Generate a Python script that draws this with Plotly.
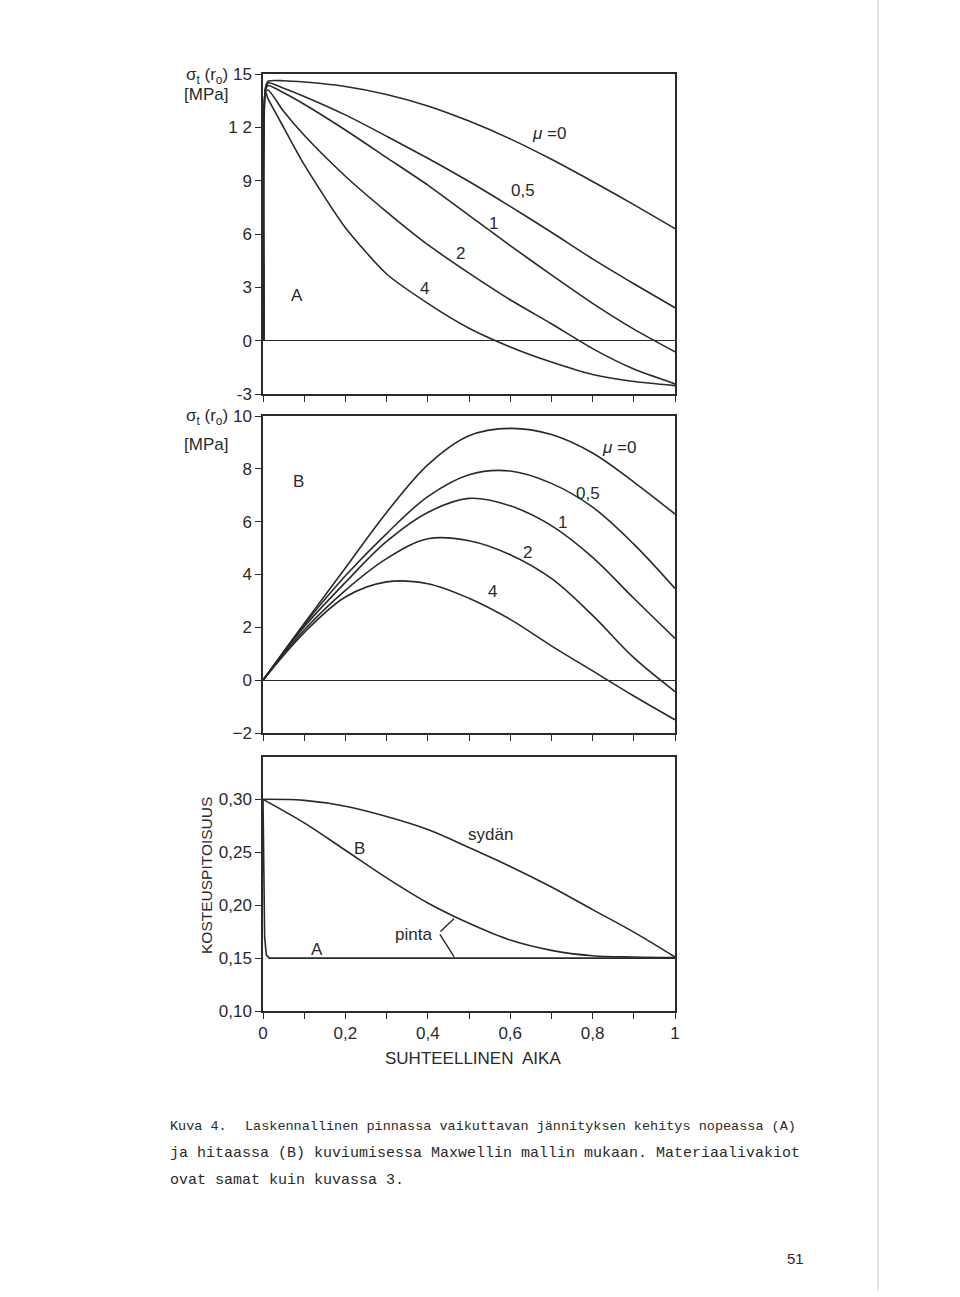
import plotly.graph_objects as go

W, H = 960, 1297

# --- panel A: sigma_t(r0), fast drying ---
xa = [0.0025, 0.006, 0.0125, 0.05, 0.1, 0.2, 0.3, 0.4, 0.5, 0.6, 0.7, 0.8, 0.9, 1.0]
a_mu0 = [0, 14.2, 14.6, 14.62, 14.55, 14.3, 13.85, 13.2, 12.35, 11.35, 10.2, 8.95, 7.65, 6.3]
a_mu05 = [0, 14.2, 14.5, 14.2, 13.74, 12.7, 11.5, 10.26, 8.95, 7.55, 6.1, 4.6, 3.2, 1.85]
a_mu1 = [0, 14.1, 14.35, 13.95, 13.3, 11.85, 10.3, 8.75, 7.05, 5.35, 3.7, 2.1, 0.65, -0.63]
a_mu2 = [0, 14.0, 14.1, 12.9, 11.55, 9.25, 7.25, 5.4, 3.8, 2.3, 0.95, -0.45, -1.6, -2.43]
a_mu4 = [0, 14.0, 13.6, 12.0, 9.9, 6.35, 3.75, 2.1, 0.7, -0.35, -1.2, -1.9, -2.3, -2.53]

# --- panel B: sigma_t(r0), slow drying ---
xb = [0, 0.1, 0.2, 0.3, 0.4, 0.5, 0.6, 0.7, 0.8, 0.9, 1.0]
b_mu0 = [0, 2.15, 4.25, 6.35, 8.15, 9.25, 9.53, 9.3, 8.6, 7.5, 6.29]
b_mu05 = [0, 2.1, 3.95, 5.55, 6.95, 7.78, 7.92, 7.45, 6.55, 5.15, 3.47]
b_mu1 = [0, 2.02, 3.7, 5.25, 6.35, 6.88, 6.6, 5.85, 4.65, 3.1, 1.58]
b_mu2 = [0, 1.9, 3.4, 4.6, 5.35, 5.28, 4.75, 3.85, 2.45, 0.85, -0.43]
b_mu4 = [0, 1.8, 3.15, 3.72, 3.65, 3.1, 2.3, 1.3, 0.35, -0.6, -1.5]

# --- panel C: moisture content ---
xc = [0, 0.1, 0.2, 0.3, 0.4, 0.5, 0.6, 0.7, 0.8, 0.9, 1.0]
sydan = [0.30, 0.299, 0.2935, 0.2838, 0.2715, 0.2545, 0.2366, 0.2172, 0.1958, 0.1745, 0.151]
pinta_b = [0.30, 0.2778, 0.2519, 0.2258, 0.2021, 0.1829, 0.167, 0.1573, 0.1522, 0.151, 0.1505]
xc_a = [0, 0.004, 0.008, 0.015, 1.0]
pinta_a = [0.30, 0.17, 0.153, 0.15, 0.15]

mu_labels = ["<i>\u03bc</i> =0", "0,5", "1", "2", "4"]

INK = "#2a2a2a"
LAB_FONT = dict(family="Liberation Sans, Arial, sans-serif", size=17, color=INK)


def px(x):
    return x / W


def py(y):
    return 1 - y / H


fig = go.Figure()

for ys in [a_mu0, a_mu05, a_mu1, a_mu2, a_mu4]:
    fig.add_trace(go.Scatter(x=xa, y=ys, mode="lines", xaxis="x", yaxis="y",
                             line=dict(color=INK, width=1.6, shape="spline", smoothing=0.6)))
for ys in [b_mu0, b_mu05, b_mu1, b_mu2, b_mu4]:
    fig.add_trace(go.Scatter(x=xb, y=ys, mode="lines", xaxis="x2", yaxis="y2",
                             line=dict(color=INK, width=1.6, shape="spline", smoothing=1.0)))
for ys in [sydan, pinta_b]:
    fig.add_trace(go.Scatter(x=xc, y=ys, mode="lines", xaxis="x3", yaxis="y3",
                             line=dict(color=INK, width=1.6, shape="spline", smoothing=1.0)))
fig.add_trace(go.Scatter(x=xc_a, y=pinta_a, mode="lines",
                         line=dict(color=INK, width=1.6), xaxis="x3", yaxis="y3"))

xdom = [px(263), px(675)]
tenths = [i / 10 for i in range(11)]

common_x = dict(range=[0, 1], domain=xdom, showline=True, linecolor=INK, linewidth=1.5,
                mirror=True, ticks="outside", ticklen=6, tickcolor=INK, tickwidth=1.3,
                tickvals=tenths, showgrid=False, zeroline=False, tickfont=LAB_FONT,
                automargin=False)
common_y = dict(showline=True, linecolor=INK, linewidth=1.5, mirror=True, ticks="outside",
                ticklen=6, tickcolor=INK, tickwidth=1.3, showgrid=False, automargin=False,
                zeroline=True, zerolinecolor=INK, zerolinewidth=1.4, tickfont=LAB_FONT)

fig.update_layout(
    width=W, height=H, autosize=False,
    margin=dict(l=0, r=0, t=0, b=0, pad=0),
    paper_bgcolor="white", plot_bgcolor="white",
    showlegend=False,
    xaxis=dict(common_x, anchor="y", showticklabels=False),
    yaxis=dict(common_y, anchor="x", range=[-3, 15], domain=[py(394), py(74)],
               tickvals=[-3, 0, 3, 6, 9, 12, 15],
               ticktext=["-3", "0", "3", "6", "9", "1 2", "15"]),
    xaxis2=dict(common_x, anchor="y2", showticklabels=False),
    yaxis2=dict(common_y, anchor="x2", range=[-2, 10], domain=[py(733), py(416)],
                tickvals=[-2, 0, 2, 4, 6, 8, 10]),
    xaxis3=dict(common_x, anchor="y3",
                ticktext=["0", "", "0,2", "", "0,4", "", "0,6", "", "0,8", "", "1"]),
    yaxis3=dict(common_y, anchor="x3", range=[0.10, 0.34], domain=[py(1011), py(757)],
                zeroline=False, tickvals=[0.10, 0.15, 0.20, 0.25, 0.30],
                ticktext=["0,10", "0,15", "0,20", "0,25", "0,30"]),
)

ann = []


def lab(text, x, y, xr, yr, size=17, **kw):
    ann.append(dict(text=text, x=x, y=y, xref=xr, yref=yr, showarrow=False,
                    xanchor="center", yanchor="middle",
                    font=dict(LAB_FONT, size=size), **kw))


# curve labels panel A
for t, x, y in zip(mu_labels, [0.693, 0.631, 0.56, 0.48, 0.393], [11.67, 8.47, 6.6, 4.9, 2.93]):
    lab(t, x, y, "x", "y")
lab("A", 0.0835, 2.55, "x", "y")
# panel B
for t, x, y in zip(mu_labels, [0.865, 0.789, 0.727, 0.643, 0.556], [8.81, 7.07, 5.98, 4.85, 3.34]):
    lab(t, x, y, "x2", "y2")
lab("B", 0.085, 7.53, "x2", "y2")
# panel C
lab("syd\u00e4n", 0.553, 0.2664, "x3", "y3")
lab("B", 0.233, 0.2538, "x3", "y3")
lab("A", 0.132, 0.158, "x3", "y3")
lab("pinta", 0.366, 0.1722, "x3", "y3")
for ty in [0.1873, 0.1511]:
    ann.append(dict(x=0.464, y=ty, ax=0.427, ay=0.1738, xref="x3", yref="y3",
                    axref="x3", ayref="y3", showarrow=True, arrowhead=0,
                    arrowwidth=1.4, arrowcolor=INK, text=""))

# axis titles
lab("\u03c3<sub>t</sub> (r<sub>o</sub>)", px(207), py(76), "paper", "paper")
lab("[MPa]", px(206), py(95), "paper", "paper")
lab("\u03c3<sub>t</sub> (r<sub>o</sub>)", px(207), py(417), "paper", "paper")
lab("[MPa]", px(206), py(445), "paper", "paper")
lab("KOSTEUSPITOISUUS", px(206), py(876), "paper", "paper", size=15.5, textangle=-90)
lab("SUHTEELLINEN  AIKA", px(473), py(1058), "paper", "paper")

# caption (typewritten; first line is set tighter in the scan)
MONO = "Liberation Mono, DejaVu Sans Mono, monospace"
caption = [
    ("Kuva 4.", 168, 1126, 13.5),
    ("Laskennallinen pinnassa vaikuttavan j\u00e4nnityksen kehitys nopeassa (A)", 243, 1126, 13.5),
    ("ja hitaassa (B) kuviumisessa Maxwellin mallin mukaan. Materiaalivakiot", 168, 1153, 15),
    ("ovat samat kuin kuvassa 3.", 168, 1180, 15),
]
for t, x, y, s in caption:
    ann.append(dict(text=t, x=px(x), y=py(y), xref="paper", yref="paper", showarrow=False,
                    xanchor="left", yanchor="middle",
                    font=dict(family=MONO, size=s, color=INK)))
ann.append(dict(text="51", x=px(795), y=py(1258), xref="paper", yref="paper",
                showarrow=False, xanchor="center", yanchor="middle",
                font=dict(LAB_FONT, size=15)))

fig.update_layout(annotations=ann)
fig.add_shape(type="line", xref="paper", yref="paper", x0=px(878), x1=px(878),
              y0=py(1290), y1=py(0), line=dict(color="#c8c8c8", width=1))

# pin the figure to the page corner so pixel positions match the window
pin = ("document.body.style.margin='0';document.body.style.padding='0';"
       "document.documentElement.style.overflow='hidden';"
       "var gd=document.getElementById('{plot_id}');"
       "gd.style.position='absolute';gd.style.left='0px';gd.style.top='0px';")
fig.write_html("out.html", post_script=pin, config={"displayModeBar": False})
